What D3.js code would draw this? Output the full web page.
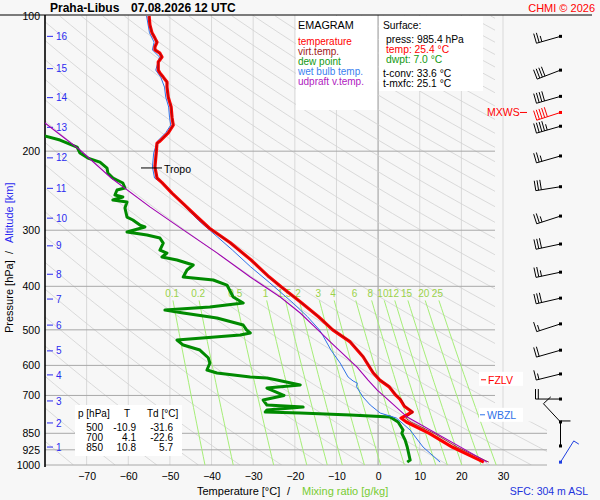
<!DOCTYPE html>
<html>
<head>
<meta charset="utf-8">
<title>Emagram Praha-Libus</title>
<script src="https://cdn.jsdelivr.net/npm/d3@7"></script>
<style>
  body { margin: 0; background: #f7f7f7; }
  svg { display: block; font-family: "Liberation Sans", Arial, sans-serif; }
</style>
</head>
<body>
<script>
// ---- values ----
var presTicks = [100, 200, 300, 400, 500, 600, 700, 850, 925, 1000];
var tempTicks = [-70, -60, -50, -40, -30, -20, -10, 0, 10, 20, 30];
var isotherms = [-70, -60, -50, -40, -30, -20, -10, 0, 10, 20, 30];
var altKm   = [1, 2, 3, 4, 5, 6, 7, 8, 9, 10, 11, 12, 13, 14, 15, 16];
var altPres = [912, 806, 720, 630, 557, 488, 427, 376, 325, 282, 242, 207, 177, 152, 131, 111];
var mixRatios = [0.1, 0.2, 0.5, 1, 1.5, 2, 3, 4, 6, 8, 10, 12, 15, 20, 25];
var mixLabels = ["0.1", "0.2", "0.5", "1", "1.5", "2", "3", "4", "6", "8", "10", "12", "15", "20", "25"];

// temperature and virtual temperature
var tempP = [100, 104.7, 109, 112, 114.4, 117.2, 119, 121, 123.4, 126.6, 132, 134, 136.8, 140.3, 144, 151.6, 159.5, 168, 175, 182,
             190, 192, 202, 217, 229.5, 235, 248, 263.5, 280, 297, 320, 349.5, 381, 401, 433, 467.5, 500, 532, 574, 623,
             647, 669, 700, 714, 740, 762, 786, 802, 850, 912, 985.4];
var tempT = [-55.0, -54.8, -54.3, -53.6, -53.1, -53.6, -53.6, -52.4, -51.9, -52.8, -52.8, -52.4, -51.6, -50.7, -50.7, -50.4, -49.7, -49.5, -49.2, -50.4,
             -52.4, -53.1, -53.3, -53.6, -53.1, -51.9, -49.5, -46.5, -43.5, -40.5, -35.5, -30.5, -26.2, -23.3, -18.7, -14.3, -10.9, -6.7, -3.6, -1.2,
             0.4, 2.6, 4.3, 5.3, 6.3, 8.2, 5.5, 6.8, 12.3, 17.8, 25.4];
var virtT = [-55.0, -54.8, -54.3, -53.6, -53.1, -53.6, -53.6, -52.4, -51.9, -52.8, -52.8, -52.4, -51.6, -50.7, -50.7, -50.4, -49.7, -49.5, -49.2, -50.4,
             -52.4, -53.1, -53.3, -53.6, -53.1, -51.9, -49.5, -46.5, -43.5, -40.5, -35.5, -30.5, -26.2, -23.3, -18.7, -14.3, -10.8, -6.6, -3.5, -1.1,
             0.5, 2.7, 4.4, 5.5, 6.5, 8.4, 6.6, 7.9, 13.5, 19.0, 26.6];

// dew point
var dwptP = [182, 188.9, 195.8, 201.9, 207.2, 211.5, 218.1, 223.7, 229.5, 235.5, 241.6, 244.1, 250.4, 253, 256.9, 259.6, 267.7, 280.4, 284.7, 292.1,
             295.1, 302.8, 307.5, 312.3, 320.4, 332.1, 337.2, 344.2, 349.5, 358.6, 367.9, 381.3, 387.3, 397.4, 422.6, 435.8, 444.8, 451.7, 458.7, 470.6,
             487.8, 500, 508.2, 513.5, 526.8, 540.6, 554.6, 577, 592.8, 614.5, 624, 636.8, 640, 646.7, 663.6, 674, 698.6, 700, 716.8, 735.5,
             743, 754.6, 762, 766, 774, 782, 802.4, 835.9, 850, 880, 912, 975, 985.4];
var dwptT = [-83, -76.4, -72.3, -71.6, -69.7, -66.8, -65.1, -64.9, -63.7, -61.3, -60.8, -62.7, -63.2, -61.3, -63.7, -60.3, -60.8, -60.3, -58.9, -57.2,
             -56.0, -60.3, -55.5, -52.4, -51.6, -52.4, -50.7, -51.9, -48.3, -44.4, -45.9, -46.8, -39.6, -36.3, -34.8, -32.4, -40.4, -51.2, -46.8, -38.7,
             -32.4, -31.6, -30.7, -33.1, -48.3, -46.8, -42.8, -40.8, -40.4, -41.1, -38.7, -30.7, -26.7, -24.3, -18.7, -26.7, -22.8, -22.6, -27.6, -26.7,
             -18.0, -26.7, -27.1, -18.7, -6.7, 2.9, 4.8, 6.0, 5.7, 6.5, 7.0, 7.7, 7.0];

// wet bulb temperature
var wetP = [100, 109, 114.4, 119, 123.4, 132, 136.8, 144, 151.6, 159.5, 168, 175, 182, 190, 202, 217, 229.5, 239, 261, 285,
            311, 332, 362, 393, 436, 467, 500, 514, 555, 593, 637, 650, 657, 669, 706, 735, 766, 786, 836, 912, 985.4];
var wetT = [-55.6, -54.9, -53.8, -54.2, -52.5, -53.4, -52.2, -51.3, -51.0, -50.3, -50.1, -49.8, -51.0, -53.0, -53.9, -54.2, -53.7, -50.9, -47.2, -43.2,
            -38.5, -35.0, -30.6, -26.0, -20.4, -17.0, -14.1, -13.3, -11.3, -9.1, -7.2, -6.0, -5.0, -5.2, -3.6, -1.9, 0.5, 4.4, 7.7, 10.8, 14.9];

// updraft virtual temperature
var parcelP = [160, 173.1, 198.8, 229.5, 266.1, 299.5, 337, 381.3, 422.6, 458.7, 500.5, 534, 606, 647, 681, 706, 782, 985.4];
var parcelT = [-86, -80.0, -71.6, -64.1, -54.8, -46.8, -38.7, -30.7, -23.5, -18.7, -14.4, -11.3, -5.0, -2.4, -0.2, 1.7, 7.0, 26.2];

// winds: pressure, direction (deg), speed (kt)
var windP   = [111, 132, 151, 164, 176, 205, 240, 279, 322, 372, 425, 485, 555, 627, 713, 802, 907, 985.4];
var windDir = [254, 249, 254, 252, 254, 254, 261, 252, 258, 258, 257, 252, 254, 256, 270, 317, 0, 32];
var windSpd = [25, 40, 40, 50, 45, 25, 30, 25, 30, 25, 30, 15, 20, 15, 20, 10, 10, 5];

var tablePres = [500, 700, 850];
var tableT    = ["-10.9", "4.1", "10.8"];
var tableTd   = ["-31.6", "-22.6", "5.7"];

var tropoP = 218, fzlvP = 646, wbzlP = 773, mxwsP = 164;

// ---- drawing ----
var w = 600, h = 500;
var svg = d3.select("body").append("svg").attr("width", w).attr("height", h);

var x = d3.scaleLinear().domain([-80, 30]).range([45, 503]);
var y = d3.scaleLog().domain([100, 1000]).range([16, 465]);

var defs = svg.append("defs");
defs.append("clipPath").attr("id", "bgclip").append("path")
    .attr("d", "M45,15H495V" + y(800) + "H547V465H45Z");
defs.append("clipPath").attr("id", "plotclip").append("rect")
    .attr("x", 45).attr("y", 15).attr("width", 520).attr("height", 452);

var grid = svg.append("g");

// isotherms
grid.selectAll("line.iso").data(isotherms).enter().append("line")
    .attr("x1", function (d) { return x(d); }).attr("x2", function (d) { return x(d); })
    .attr("y1", 15).attr("y2", 465)
    .attr("stroke", function (d) { return d === 0 ? "#999" : "#d9d9d9"; })
    .attr("stroke-width", 1);

// dry adiabats
var lnp = d3.range(0, 1.0001, 0.02).map(function (f) { return 100 * Math.pow(10, f); });
var thetas = d3.range(200, 720, 10);
grid.append("g").attr("clip-path", "url(#bgclip)")
  .selectAll("path").data(thetas).enter().append("path")
    .attr("d", function (th) {
        return d3.line().x(function (p) { return x(th * Math.pow(p / 1000, 0.286) - 273.15); })
                        .y(function (p) { return y(p); })(lnp);
    })
    .attr("fill", "none").attr("stroke", "#d2d2d2").attr("stroke-width", 0.8);

// isobars
grid.selectAll("line.bar").data(presTicks.slice(1)).enter().append("line")
    .attr("x1", 45).attr("x2", function (d) { return d >= 800 ? 547 : 495; })
    .attr("y1", function (d) { return y(d); }).attr("y2", function (d) { return y(d); })
    .attr("stroke", "#a8a8a8").attr("stroke-width", 1);

// mixing ratio lines
function tdFromMix(wr, p) {
    var e = wr * p / (622 + wr);
    var l = Math.log(e / 6.112);
    return 243.5 * l / (17.67 - l);
}
var mixPres = d3.range(0, 1.0001, 0.05).map(function (f) { return 430 * Math.pow(1000 / 430, f); });
grid.append("g").selectAll("path").data(mixRatios).enter().append("path")
    .attr("d", function (wr) {
        return d3.line().x(function (p) { return x(tdFromMix(wr, p)); })
                        .y(function (p) { return y(p); })(mixPres);
    })
    .attr("fill", "none").attr("stroke", "#a6ee78").attr("stroke-width", 1);
grid.append("g").selectAll("text").data(mixRatios).enter().append("text")
    .attr("x", function (wr) { return x(tdFromMix(wr, 420)); })
    .attr("y", 297).attr("text-anchor", "middle")
    .attr("font-size", 10).attr("fill", "#9ad24a")
    .text(function (d, i) { return mixLabels[i]; });

// boxes
svg.append("rect").attr("x", 296).attr("y", 16).attr("width", 81).attr("height", 94).attr("fill", "#fff");
svg.append("rect").attr("x", 379).attr("y", 16).attr("width", 104).attr("height", 75).attr("fill", "#fff");
svg.append("rect").attr("x", 75).attr("y", 405).attr("width", 107).attr("height", 51).attr("fill", "#fff");

// axis lines
svg.append("line").attr("x1", 0).attr("x2", 592).attr("y1", 15).attr("y2", 15)
    .attr("stroke", "#000").attr("stroke-width", 1.2);
svg.append("line").attr("x1", 45).attr("x2", 45).attr("y1", 15).attr("y2", 467)
    .attr("stroke", "#000").attr("stroke-width", 1.6);

var yAxis = svg.append("g").attr("transform", "translate(45,0)")
    .call(d3.axisLeft(y).tickValues(presTicks).tickSize(0).tickPadding(5).tickFormat(d3.format("d")));
yAxis.select(".domain").remove();
yAxis.selectAll("text").attr("font-size", 10.5).attr("font-family", "Liberation Sans, Arial, sans-serif").attr("fill", "#000");

var xAxis = svg.append("g").attr("transform", "translate(0,465)")
    .call(d3.axisBottom(x).tickValues(tempTicks).tickSize(0).tickPadding(8).tickFormat(d3.format("d")));
xAxis.select(".domain").remove();
xAxis.selectAll("text").attr("font-size", 10.5).attr("font-family", "Liberation Sans, Arial, sans-serif").attr("fill", "#000");

// altitude ticks
var alt = svg.append("g").attr("fill", "#2b2bf0").attr("stroke", "#2b2bf0");
alt.selectAll("line").data(altPres).enter().append("line")
    .attr("x1", 47).attr("x2", 53)
    .attr("y1", function (d) { return y(d); }).attr("y2", function (d) { return y(d); });
alt.selectAll("text").data(altPres).enter().append("text")
    .attr("stroke", "none").attr("x", 56).attr("y", function (d) { return y(d); }).attr("dy", "0.36em")
    .attr("font-size", 10).text(function (d, i) { return altKm[i]; });

// profiles
var prof = svg.append("g").attr("clip-path", "url(#plotclip)");
function profile(ps, ts) {
    return d3.line().x(function (d, i) { return x(ts[i]); }).y(function (d) { return y(d); })(ps);
}
prof.append("path").attr("d", profile(dwptP, dwptT))
    .attr("fill", "none").attr("stroke", "#008a00").attr("stroke-width", 3).attr("stroke-linejoin", "round");
prof.append("path").attr("d", profile(wetP, wetT))
    .attr("fill", "none").attr("stroke", "#2f72e8").attr("stroke-width", 1);
prof.append("path").attr("d", profile(tempP, tempT))
    .attr("fill", "none").attr("stroke", "#ff0000").attr("stroke-width", 3.2).attr("stroke-linejoin", "round");
prof.append("path").attr("d", profile(tempP, virtT))
    .attr("fill", "none").attr("stroke", "#8b1010").attr("stroke-width", 0.8);
prof.append("path").attr("d", profile(parcelP, parcelT))
    .attr("fill", "none").attr("stroke", "#a000b0").attr("stroke-width", 1.1);

// tropopause
svg.append("line").attr("x1", 141).attr("x2", 162).attr("y1", y(tropoP)).attr("y2", y(tropoP)).attr("stroke", "#000");
svg.append("text").attr("x", 164).attr("y", y(tropoP) + 5).attr("font-size", 10.5).text("Tropo");

// level labels
svg.append("rect").attr("x", 479).attr("y", y(fzlvP) - 8).attr("width", 44).attr("height", 14).attr("fill", "#fff");
svg.append("line").attr("x1", 481).attr("x2", 486).attr("y1", y(fzlvP)).attr("y2", y(fzlvP)).attr("stroke", "#ff0000");
svg.append("text").attr("x", 488).attr("y", y(fzlvP) + 4).attr("font-size", 10.5).attr("fill", "#ff0000").text("FZLV");
svg.append("rect").attr("x", 479).attr("y", y(wbzlP) - 7).attr("width", 44).attr("height", 14).attr("fill", "#fff");
svg.append("line").attr("x1", 480).attr("x2", 485).attr("y1", y(wbzlP)).attr("y2", y(wbzlP)).attr("stroke", "#2f72e8");
svg.append("text").attr("x", 487).attr("y", y(wbzlP) + 4).attr("font-size", 10.5).attr("fill", "#2f72e8").text("WBZL");
svg.append("text").attr("x", 487).attr("y", y(mxwsP) + 4).attr("font-size", 10.5).attr("fill", "#ff0000").text("MXWS");
svg.append("line").attr("x1", 520).attr("x2", 527).attr("y1", y(mxwsP)).attr("y2", y(mxwsP)).attr("stroke", "#ff0000");

// wind barbs
var barbs = svg.append("g");
windP.forEach(function (p, i) {
    var color = p === mxwsP ? "#ff0000" : (i === windP.length - 1 ? "#1f3fe0" : "#000");
    var px = 560.5, py = y(p);
    var a = windDir[i] * Math.PI / 180;
    var ux = Math.sin(a), uy = -Math.cos(a);
    var nx = -uy, ny = ux;
    var tx = px + ux * 25, ty = py + uy * 25;
    var g = barbs.append("g").attr("stroke", color).attr("stroke-width", 1);
    g.append("line").attr("x1", px).attr("y1", py).attr("x2", tx).attr("y2", ty);
    g.append("rect").attr("x", px - 1.5).attr("y", py - 1.5).attr("width", 3).attr("height", 3)
        .attr("fill", color).attr("stroke", "none");
    var full = Math.floor(windSpd[i] / 10), half = windSpd[i] % 10 >= 5;
    var pos = 0;
    for (var k = 0; k < full + (half ? 1 : 0); k++) {
        var len = k < full ? 10 : 6;
        var bx = tx - ux * pos, by = ty - uy * pos;
        g.append("line").attr("x1", bx).attr("y1", by).attr("x2", bx + nx * len).attr("y2", by + ny * len);
        pos += 2.8;
    }
});

// title and credits
svg.append("text").attr("x", 50).attr("y", 12).attr("font-size", 12).attr("font-weight", "bold").text("Praha-Libus");
svg.append("text").attr("x", 131).attr("y", 12).attr("font-size", 12).attr("font-weight", "bold").text("07.08.2026 12 UTC");
svg.append("text").attr("x", 595).attr("y", 12).attr("text-anchor", "end").attr("font-size", 11)
    .attr("fill", "#ff0000").text("CHMI © 2026");

// legend
svg.append("text").attr("x", 298).attr("y", 29).attr("font-size", 10.8).text("EMAGRAM");
var legItems = [["temperature", "#ff0000"], ["virt.temp.", "#a02020"], ["dew point", "#119911"],
                ["wet bulb temp.", "#3a7ff0"], ["udpraft v.temp.", "#b020c0"]];
svg.selectAll("text.leg").data(legItems).enter().append("text")
    .attr("x", 298).attr("y", function (d, i) { return 45 + i * 10; })
    .attr("font-size", 10).attr("fill", function (d) { return d[1]; })
    .text(function (d) { return d[0]; });

// surface info
var sfc = [["Surface:", "#000", 383, 29], ["press: 985.4 hPa", "#000", 386, 43], ["temp: 25.4 °C", "#ff0000", 386, 53],
           ["dwpt: 7.0 °C", "#119911", 386, 63], ["t-conv: 33.6 °C", "#000", 383, 77], ["t-mxfc: 25.1 °C", "#000", 383, 87]];
svg.selectAll("text.sfc").data(sfc).enter().append("text")
    .attr("x", function (d) { return d[2]; }).attr("y", function (d) { return d[3]; })
    .attr("font-size", 10.3).attr("fill", function (d) { return d[1]; })
    .text(function (d) { return d[0]; });

// standard levels table
var tab = svg.append("g").attr("font-size", 10);
tab.append("text").attr("x", 78).attr("y", 417).text("p [hPa]");
tab.append("text").attr("x", 124).attr("y", 417).text("T");
tab.append("text").attr("x", 147).attr("y", 417).text("Td [°C]");
tablePres.forEach(function (p, i) {
    var yy = 431 + i * 10;
    tab.append("text").attr("x", 103).attr("y", yy).attr("text-anchor", "end").text(p);
    tab.append("text").attr("x", 136).attr("y", yy).attr("text-anchor", "end").text(tableT[i]);
    tab.append("text").attr("x", 173).attr("y", yy).attr("text-anchor", "end").text(tableTd[i]);
});

// axis titles
var yt = svg.append("text").attr("transform", "translate(12.5,333) rotate(-90)").attr("font-size", 11);
yt.append("tspan").attr("x", 0).text("Pressure [hPa]");
yt.append("tspan").attr("x", 79).text("/");
yt.append("tspan").attr("x", 90).attr("fill", "#2b2bf0").text("Altitude [km]");

var xt = svg.append("text").attr("y", 495).attr("font-size", 11);
xt.append("tspan").attr("x", 197).text("Temperature [°C]");
xt.append("tspan").attr("x", 287).text("/");
xt.append("tspan").attr("x", 302).attr("fill", "#77cc33").text("Mixing ratio [g/kg]");

svg.append("text").attr("x", 588).attr("y", 495).attr("text-anchor", "end").attr("font-size", 10.5)
    .attr("fill", "#2233dd").text("SFC: 304 m ASL");
</script>
</body>
</html>
